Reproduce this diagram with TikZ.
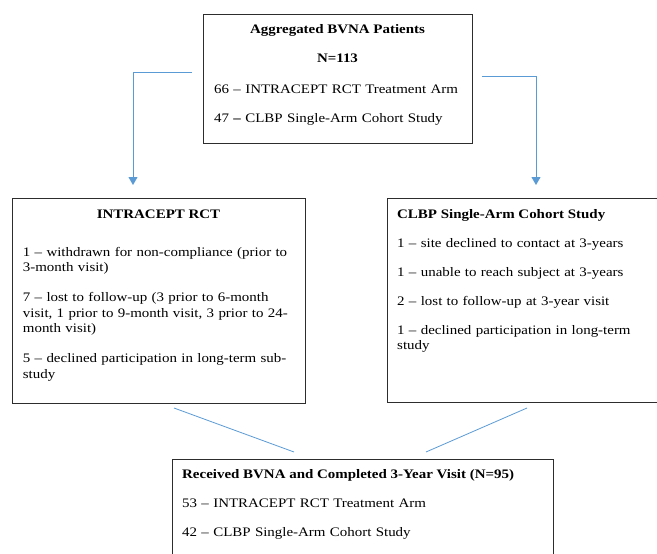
\documentclass[tikz,border=0pt]{standalone}
\usepackage{fontspec}
\setmainfont{Liberation Serif}[FakeStretch=1.15]
\usetikzlibrary{arrows.meta}
\definecolor{linkblue}{RGB}{91,155,213}
\definecolor{boxgray}{RGB}{45,45,45}
\tikzset{
 box/.style={draw=boxgray,line width=1.3pt,anchor=north west,inner sep=0pt},
 txt/.style={anchor=base west,align=left,inner sep=0pt,font=\fontsize{13}{15.5}\selectfont},
 ttl/.style={inner sep=0pt,font=\fontsize{13}{15.5}\selectfont\bfseries},
 link/.style={draw=linkblue,line width=0.9pt},
 tip/.style={-{Triangle[width=9pt,length=8pt]}}
}
\begin{document}
\begin{tikzpicture}[x=1pt,y=-1pt]
 \clip (0,0) rectangle (657,554);
 \fill[white] (0,0) rectangle (657,554);
 % boxes
 \node[box,minimum width=269pt,minimum height=129pt] (agg) at (203,14) {};
 \node[box,minimum width=293pt,minimum height=205pt] (rct) at (12,198) {};
 \node[box,minimum width=290pt,minimum height=204pt] (clbp) at (387,198) {};
 \node[box,minimum width=381pt,minimum height=130pt] (done) at (172,459) {};
 % texts
 \node[ttl,anchor=base] (aggT) at (337.5,33) {Aggregated BVNA Patients};
 \node[ttl,anchor=base] (aggN) at (337.5,63) {N=113};
 \node[txt,text width=255pt] (aggL) at (214,93)
 {66 -- INTRACEPT RCT Treatment Arm\\[13.5pt]47 \textbf{--} CLBP Single-Arm Cohort Study};
 \node[ttl,anchor=base] (rctT) at (158.5,218) {INTRACEPT RCT};
 \node[txt,text width=278pt] (rctL) at (22.7,256)
 {1 -- withdrawn for non-compliance (prior to\\3-month visit)\\[14.5pt]
 7 -- lost to follow-up (3 prior to 6-month\\visit, 1 prior to 9-month visit, 3 prior to 24-\\month visit)\\[14.5pt]
 5 -- declined participation in long-term sub-\\study};
 \node[ttl,anchor=base west] (clbpT) at (397,218) {CLBP Single-Arm Cohort Study};
 \node[txt,text width=255pt] (clbpL) at (397,247)
 {1 -- site declined to contact at 3-years\\[13.5pt]1 -- unable to reach subject at 3-years\\[13.5pt]
 2 -- lost to follow-up at 3-year visit\\[13.5pt]1 -- declined participation in long-term\\study};
 \node[ttl,anchor=base west] (doneT) at (182,478) {Received BVNA and Completed 3-Year Visit (N=95)};
 \node[txt,text width=340pt] (doneL) at (182,507)
 {53 -- INTRACEPT RCT Treatment Arm\\[14pt]42 -- CLBP Single-Arm Cohort Study};
 % connectors
 \coordinate (aggW) at (192,72);
 \coordinate (aggE) at (482,76);
 \coordinate (rctIn) at (133,185);
 \coordinate (clbpIn) at (536,185);
 \draw[link,tip] (aggW) -| (rctIn);
 \draw[link,tip] (aggE) -| (clbpIn);
 \coordinate (rctOut) at (174,408);
 \coordinate (clbpOut) at (527,408);
 \coordinate (doneL1) at (294,452);
 \coordinate (doneR1) at (426,452);
 \draw[link,line width=0.8pt] (rctOut) -- (doneL1);
 \draw[link,line width=0.8pt] (clbpOut) -- (doneR1);
\end{tikzpicture}
\end{document}
